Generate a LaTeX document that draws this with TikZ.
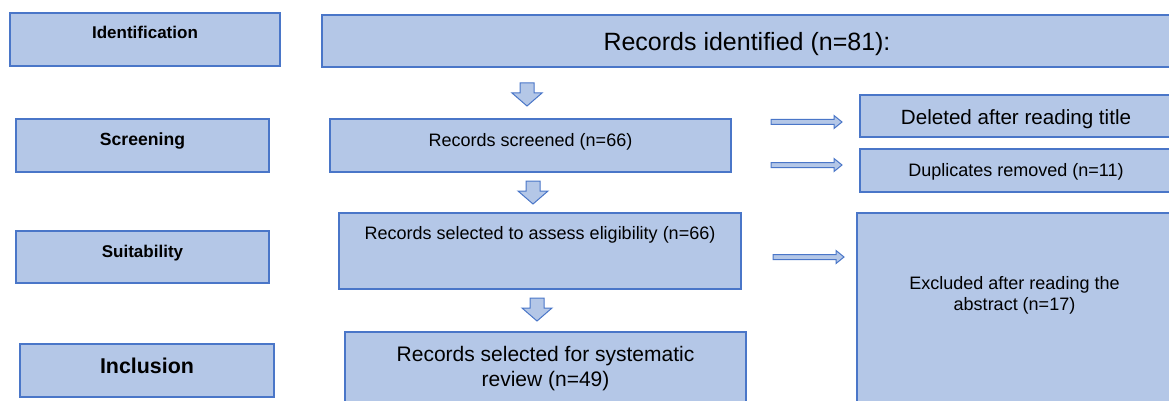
\documentclass[tikz,border=0pt]{standalone}
\usepackage{fontspec}
\setmainfont{Liberation Sans}
\definecolor{boxfill}{HTML}{B4C7E7}
\definecolor{boxline}{HTML}{4A76C8}
\begin{document}
\begin{tikzpicture}[x=1pt,y=-1pt,
  box/.style={draw=boxline, fill=boxfill, line width=1.3pt, anchor=north west, inner sep=0pt, outer sep=0pt},
  lab/.style={anchor=base, inner sep=0pt, align=center, text=black},
  labc/.style={anchor=center, inner sep=0pt, align=center, text=black},
  arrsty/.style={draw=boxline, fill=boxfill, line width=1pt, line join=miter},
  darr/.pic={\draw[arrsty] (-7,0) -- (7,0) -- (7,10) -- (15,10) -- (0,23) -- (-15,10) -- (-7,10) -- cycle;},
  rarr/.pic={\draw[arrsty] (0,-2.5) -- (63,-2.5) -- (63,-6.5) -- (71,0) -- (63,6.5) -- (63,2.5) -- (0,2.5) -- cycle;},
  f17b/.style={font=\fontsize{17}{20}\selectfont\bfseries},
  f21b/.style={font=\fontsize{21.4}{25}\selectfont\bfseries},
  f25/.style={font=\fontsize{25}{30}\selectfont},
  f18/.style={font=\fontsize{18}{21}\selectfont},
  f20/.style={font=\fontsize{20.6}{24}\selectfont},
  f21/.style={font=\fontsize{21}{25}\selectfont}]
\useasboundingbox (0,0) rectangle (1169,401);
\clip (0,0) rectangle (1169,401);

% stage boxes
\node[box, minimum width=270pt, minimum height=53pt,
  label={[lab,f17b,yshift=-26pt]north:Identification}] (id) at (10,13) {};
\node[box, minimum width=253pt, minimum height=53pt,
  label={[lab,f17b,font=\fontsize{17.6}{20}\selectfont\bfseries,yshift=-26.3pt]north:Screening}] (scr) at (16,119) {};
\node[box, minimum width=253pt, minimum height=52pt,
  label={[lab,f17b,yshift=-26.2pt]north:Suitability}] (suit) at (16,231) {};
\node[box, minimum width=254pt, minimum height=53pt,
  label={[lab,f21b,yshift=-29.7pt]north:Inclusion}] (incl) at (20,344) {};

% main flow
\node[box, minimum width=850pt, minimum height=52pt,
  label={[lab,f25,yshift=-35.5pt]north:Records identified (n=81):}] (rid) at (322,15) {};
\node[box, minimum width=401pt, minimum height=53pt,
  label={[lab,f18,yshift=-27.4pt]north:Records screened (n=66)}] (rs) at (330,119) {};
\node[box, minimum width=402pt, minimum height=76pt,
  label={[lab,f18,yshift=-26.4pt]north:Records selected to assess eligibility (n=66)}] (rse) at (339,213) {};
\node[box, minimum width=401pt, minimum height=100pt,
  label={[labc,f21,yshift=-36.5pt]north:Records selected for systematic\\review (n=49)}] (rsr) at (345,332) {};

% exclusion boxes
\node[box, minimum width=312pt, minimum height=42pt,
  label={[lab,f20,yshift=-29.4pt]north:Deleted after reading title}] (del) at (860,95) {};
\node[box, minimum width=312pt, minimum height=43pt,
  label={[lab,f18,yshift=-27.4pt]north:Duplicates removed (n=11)}] (dup) at (860,149) {};
\node[box, minimum width=315pt, minimum height=220pt,
  label={[labc,f18,yshift=-82.2pt]north:Excluded after reading the\\abstract (n=17)}] (exc) at (857,213) {};

% block arrows
\pic at (527,83) {darr};
\pic at (533,181) {darr};
\pic at (537,298) {darr};
\pic at (771,122) {rarr};
\pic at (771,165) {rarr};
\pic at (773,257) {rarr};
\end{tikzpicture}
\end{document}
